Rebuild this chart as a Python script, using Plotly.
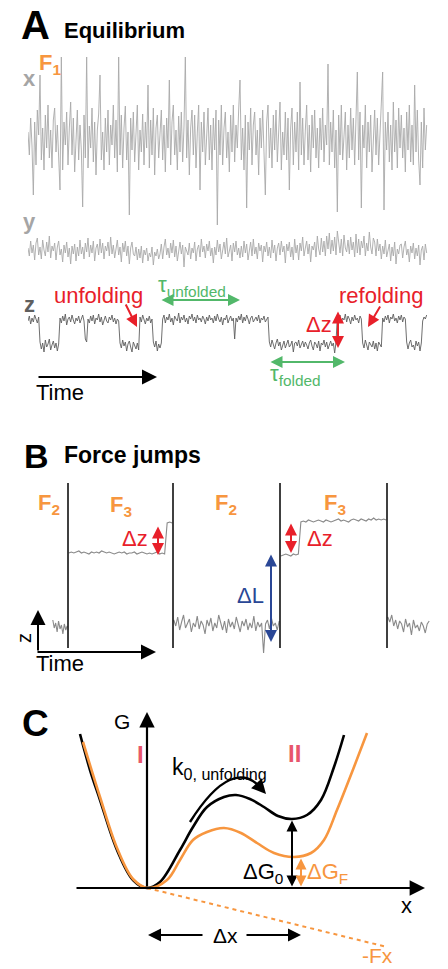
import numpy as np
import plotly.graph_objects as go

W, H = 448, 969

# ---------------- data ----------------
# Panel A: equilibrium traces (offsets, sampled evenly in time)
x_signal = [8, -15, 22, -6, -55, 18, -25, 30, 5, 65, -20, 12, -30, 25, -8, 35, -18, 10, -28, 20,
            32, -12, 15, -22, -50, 83, -30, 18, -5, 28, -25, 12, 38, -15, 22, -32, 8, 30, -20, 15,
            -10, -67, 25, -18, 83, -28, 14, -8, 32, -22, 18, -35, 10, 26, 65, -20, 8, -30, 22, -12,
            30, -25, 15, -5, 35, -18, 20, -32, 83, -15, 25, -28, 12, 34, -20, 8, -75, 22, -10, 28,
            -22, 15, 35, -30, 10, -12, 26, -25, 18, -8, 55, -28, 20, -15, 32, -35, 12, 25, -18, 6,
            30, -20, 15, -32, 22, -8, 60, -25, 18, 35, -15, 10, -30, 24, -12, 28, -22, 14, 83, -18,
            20, -35, 12, 30, -15, 25, -28, 8, 35, -50, 18, -12, 28, -25, 10, 32, -20, 15, -30, 22,
            -10, 30, -85, 20, -15, 35, -25, 12, 28, -18, 8, -32, 25, -12, 35, -22, 15, -8, 30, 60,
            -20, 12, -30, 25, -68, 18, -10, 32, -25, 15, 28, -15, 10, -35, 22, -8, 30, -20, -55, 18,
            35, -18, 12, -28, 25, -10, 30, -22, 15, 38, -30, 8, -15, 28, -20, 22, -50, 12, 32, -25,
            18, -12, 28, -30, 58, -15, 22, -25, 10, 35, -20, 15, -32, 25, -8, 30, -18, 12, -28, 22,
            -10, 32, -22, 15, -5, 76, -25, 18, -12, 30, -28, 10, -72, 25, -15, 35, -20, 12, 28, -30,
            15, -18, 32, -10, 22, -25, 12, 68, -20, 28, -68, 15, -8, 35, -28, 18, -12, 25, -32, 10,
            30, -15, 22, -25, 12, 35, 68, -70, 18, -10, 28, -22, 15, -30, 38, -12, 20, -28, 32, -8,
            25, -18, 12, -32, 28, -10, 35, -22, 15, -25, 55, -12, 30, -20, -45, 18, -28, 32, -10, 15]
y_signal = [2, -6, 9, -3, 5, -10, 7, 12, -5, 3, -9, 10, 0, -6, 8, -2, 14, -8, 4, -1,
            7, -10, 3, 9, -5, 1, -12, 5, -3, 8, -7, 2, -14, 4, -4, 6, -11, 3, -6, 10,
            -4, 3, -9, 7, -2, 12, -7, 5, -3, 9, -11, 2, 6, -5, 11, -3, 7, -9, 4, -1,
            8, -6, 13, -4, 5, -8, 1, 10, -5, 3, -12, 7, -2, 9, -6, 4, -14, 2, 8, -4,
            -6, 3, -10, 1, -8, 4, -13, 0, -5, 2, -11, -3, -7, 3, -15, -2, -6, 1, -9, -4,
            6, -9, 3, 11, -5, 2, -8, 7, -3, 10, -7, 4, -11, 2, 8, -4, 5, -17, 3, -1,
            -5, 7, -9, 2, -3, 8, -11, 1, 5, -7, 11, -2, 4, -8, 6, -1, 9, -6, 2, -13,
            3, -5, 10, -2, 6, -9, 1, 8, -4, 12, -7, 1, 5, -11, 7, -2, 9, -5, 2, -8,
            4, -7, 9, -3, 6, -10, 2, 8, -6, 11, -4, 3, -9, 7, -1, 5, -12, 4, -2, 8,
            -6, 3, -8, 10, -3, 5, -11, 2, 7, -5, 9, -2, 4, -13, 6, -1, 8, -7, 3, -10,
            11, -3, 5, -10, 7, -1, 13, -6, 2, 9, -4, 6, -12, 4, 0, 8, -7, 14, 1, -5,
            12, -2, 9, -6, 14, 1, 17, -4, 10, -1, 13, -5, 19, 5, -3, 11, -6, 15, 2, -2,
            10, -4, 13, 0, 8, -7, 16, -3, 11, -5, 9, 2, 14, -6, 7, -1, 18, 3, -4, 12,
            8, -6, 11, -1, 6, -9, 4, -4, 10, -7, 2, 6, -11, 3, -6, 8, -14, 1, -4, 5,
            6, -8, 3, 9, -5, 1, -12, 4, -3, 7, -9, 2, -6, 5, -15, 0, 4, -10, 6, -3]
z_signal = [24, 29, 21, 27, 23, 30, 26, 22, 28,
            3, -4, 2, -7, 5, -2, 1, 6, -5, 0, 4, -3, 2, -6, 1,
            27, 22, 29, 24, 31, 20, 26, 28, 23, 30, 25, 21, 27, 24, 29, 22, 26, 30, 24,
            6, 3,
            26, 22, 29, 24, 30, 21, 27, 25, 31, 23, 28, 20, 26, 29, 24, 22, 28, 25, 30, 23, 27, 21, 26, 24,
            2, -3, 5, -1, 3, -6, 1, 4, -2, -7, 3, 0, -4, 2, -5,
            28, 23, 30, 25, 21, 27, 24, 29, 22, 26,
            3, -2, 4, -6, 1, -3, 2,
            26, 30, 22, 28, 25, 31, 23, 27, 20, 29, 26, 24, 32, 22, 28, 25, 30, 23, 27, 21,
            29, 26, 31, 24, 28, 22, 30, 25, 27, 23, 29, 26, 21, 28, 24, 30, 25, 27, 22, 29,
            24, 31, 26, 23, 28, 20, 27, 25, 30, 22, 26, 29, 24, 27,
            6,
            27, 23, 29, 25, 31, 22, 28, 24, 30, 26, 21, 27, 29, 23, 26, 28, 24, 30, 22, 27, 25, 29, 23, 26, 28,
            3, -2, 5, 0, -4, 2, 6, -1, 3, -5, 1, 4, -3, 2, 5, -2, 0, 4, -7, 2,
            3, -1, 5, -3, 1, 4, -2, 3, 0, -4, 2, 5, -1, -5, 3, 1, -3, 4, -6, 2,
            0, 5, -2, 3, -4, 1, 4, -1, 2, -8, 3,
            28, 24, 30, 22, 27, 25, 31, 23, 29, 26, 21, 28, 24, 30, 25, 27, 22, 29, 26,
            2, -3, 5, 0, -5, 3, 1, -2, 4, -4, 2, -6, 3, 0, -2,
            27, 23, 29, 25, 30, 22, 28, 26, 31, 24, 27, 22, 29, 25, 30, 23, 28, 26,
            3, -4, 2, 5, -2, 0, -5, 4, -1, 3, -6, 2,
            24, 28, 26, 30]

# Panel B: force-jump trace
force_jump_times = [8.0, 34.25, 61.0, 87.75]
trace_start, trace_end = 4.0, 98.5
b_seg1 = [30, 22, 27, 18, 29, 21, 25, 16, 26, 20, 24]
b_seg2 = [97, 98, 97, 98, 99, 97, 98, 97, 96, 98, 97, 98, 97, 99, 98, 97, 98, 97, 96, 97,
          98, 97, 98, 96, 97, 97, 98, 96, 97, 98, 97, 96, 97, 96, 97, 98, 96, 97, 96, 127,
          128, 127]
b_seg3 = [30, 24, 33, 20, 28, 35, 22, 26, 31, 18, 27, 23, 34, 21, 29, 25, 16, 30, 24, 32,
          19, 27, 22, 35, 26, 20, 29, 17, 31, 23, 28, 21, 33, 25, 18, 29, 24, 31, 20, 27,
          22, 34, 19, 28, 23, 27, -3, 26, 30, 21, 32, 24, 27, 20, 29]
b_seg4 = [94, 95, 96, 95, 94, 96, 95, 96, 128, 129, 128, 130, 129, 128, 129, 130, 129, 128, 130, 129,
          128, 129, 130, 131, 129, 130, 129, 128, 130, 131, 130, 129, 131, 130, 129, 131, 130, 132, 130, 131,
          130, 131, 130]
b_seg5 = [33, 28, 35, 24, 30, 21, 29, 26, 18, 31, 23, 27, 15, 30, 22, 25, 19, 28, 24, 17, 26, 29]

# Panel C: free-energy landscapes
land0_x = [-6.7, -5.7, -4.7, -3.0, -1.4, 0.0, 1.3, 3.3, 4.6, 6.0, 7.7, 8.9, 10.3, 11.7, 13.1,
           14.5, 16.0, 17.4, 18.7, 19.7]
land0_G = [15.4, 11.8, 8.8, 3.8, 0.8, 0.0, 0.6, 3.8, 6.1, 8.1, 9.1, 9.3, 8.9, 8.1, 7.2,
           6.9, 7.3, 8.8, 12.1, 15.3]
landF_x = [-6.4, -4.7, -3.0, -1.4, 0.1, 2.0, 3.3, 4.6, 6.0, 7.7, 9.4, 11.0, 12.7, 14.7,
           16.4, 17.7, 19.0, 20.7, 22.0]
landF_G = [14.6, 9.1, 4.0, 0.9, 0.0, 0.8, 2.8, 4.8, 5.6, 6.0, 5.5, 4.5, 3.5, 3.1,
           3.5, 4.8, 7.8, 12.1, 15.5]
tilt_x = [0.0, 24.0]
tilt_G = [0.0, -5.9]

# ---------------- helpers ----------------
FONT = "Liberation Sans, Arial, Helvetica, sans-serif"
ORANGE = "#f7963f"
RED = "#e8202a"
GREEN = "#52b86a"
BLUE = "#2a4796"
PINK = "#e8566c"


def px(x):
    return x / W


def py(y):
    return 1 - y / H


annotations = []
shapes = []


def text(x, y, s, size, color="black", xanchor="center", yanchor="middle", angle=0):
    annotations.append(dict(x=px(x), y=py(y), xref="paper", yref="paper", text=s,
                            showarrow=False, xanchor=xanchor, yanchor=yanchor, textangle=angle,
                            borderpad=0,
                            font=dict(family=FONT, size=size, color=color)))


def arrow(x0, y0, x1, y1, color="black", width=2.0, both=False, size=1.3, head=2):
    annotations.append(dict(x=px(x1), y=py(y1), xref="paper", yref="paper",
                            ax=x0 - x1, ay=y0 - y1, axref="pixel", ayref="pixel",
                            text="", showarrow=True, arrowhead=head, arrowsize=size,
                            arrowwidth=width, arrowcolor=color,
                            arrowside="end+start" if both else "end",
                            startarrowhead=head, startarrowsize=size,
                            standoff=0, startstandoff=0))


def arrow_ax(xa, ya, x0, y0, x1, y1, color="black", width=2.0, both=False, size=1.3, head=2):
    annotations.append(dict(x=x1, y=y1, xref=xa, yref=ya, ax=x0, ay=y0, axref=xa, ayref=ya,
                            text="", showarrow=True, arrowhead=head, arrowsize=size,
                            arrowwidth=width, arrowcolor=color,
                            arrowside="end+start" if both else "end",
                            startarrowhead=head, startarrowsize=size,
                            standoff=0, startstandoff=0))


fig = go.Figure()

# ---------------- Panel A ----------------
fig.add_trace(go.Scatter(x=np.arange(len(x_signal)), y=x_signal, xaxis="x", yaxis="y",
                         mode="lines", line=dict(color="#a9a9a9", width=0.9)))
fig.add_trace(go.Scatter(x=np.arange(len(y_signal)), y=y_signal, xaxis="x", yaxis="y2",
                         mode="lines", line=dict(color="#a9a9a9", width=0.9)))
fig.add_trace(go.Scatter(x=np.arange(len(z_signal)), y=z_signal, xaxis="x", yaxis="y3",
                         mode="lines", line=dict(color="#5f5f5f", width=0.9)))

text(35, 25, "<b>A</b>", 40)
text(63, 31, "<b>Equilibrium</b>", 22, xanchor="left")
text(38, 64, "<b>F<sub>1</sub></b>", 22, ORANGE, xanchor="left")
text(29, 79, "<b>x</b>", 22, "#a5a5a5")
text(29, 221, "<b>y</b>", 22, "#a5a5a5")
text(29, 304, "<b>z</b>", 22, "#5f5f5f")
text(53, 295, "unfolding", 22, RED, xanchor="left")
arrow(125, 303, 137, 327, RED, 2.0, size=1.2)
text(338, 295, "refolding", 22, RED, xanchor="left")
arrow(381, 305, 368, 327, RED, 2.0, size=1.2)
text(157, 286, "τ<sub>unfolded</sub>", 22, GREEN, xanchor="left")
arrow(160, 300, 240, 300, GREEN, 2.0, both=True, size=1.2)
text(269, 375, "τ<sub>folded</sub>", 22, GREEN, xanchor="left")
arrow(269, 362, 345, 362, GREEN, 2.0, both=True, size=1.2)
text(333, 324, "Δz", 22, RED, xanchor="right")
arrow(338, 310, 338, 348, RED, 2.0, both=True, size=1.2)
arrow(37, 377, 157, 377, "black", 2.0, size=1.5)
text(35, 392, "Time", 22, xanchor="left")

# ---------------- Panel B ----------------
edges = [trace_start] + force_jump_times + [trace_end]
for seg, a, b in zip([b_seg1, b_seg2, b_seg3, b_seg4, b_seg5], edges[:-1], edges[1:]):
    fig.add_trace(go.Scatter(x=np.linspace(a + 0.2, b - 0.2, len(seg)), y=seg, xaxis="x2",
                             yaxis="y4", mode="lines", line=dict(color="#8a8a8a", width=1.1)))
for tj in force_jump_times:
    shapes.append(dict(type="line", xref="x2", yref="y4", x0=tj, x1=tj, y0=2, y1=167,
                       line=dict(color="black", width=1.5)))

text(36, 456, "<b>B</b>", 34)
text(63, 455, "<b>Force jumps</b>", 23, xanchor="left")
text(37, 504, "<b>F<sub>2</sub></b>", 22, ORANGE, xanchor="left")
text(109, 506, "<b>F<sub>3</sub></b>", 22, ORANGE, xanchor="left")
text(214, 504, "<b>F<sub>2</sub></b>", 22, ORANGE, xanchor="left")
text(323, 504, "<b>F<sub>3</sub></b>", 22, ORANGE, xanchor="left")
text(149, 538, "Δz", 22, RED, xanchor="right")
arrow(158, 525, 158, 555, RED, 2.0, both=True, size=1.2)
text(306, 538, "Δz", 22, RED, xanchor="left")
arrow(291, 522, 291, 553, RED, 2.0, both=True, size=1.2)
text(250, 595, "ΔL", 22, BLUE)
arrow(271, 553, 271, 642, BLUE, 2.0, both=True, size=1.2)
arrow(38, 652, 38, 610, "black", 2.0, size=1.5)
arrow(36, 652, 156, 652, "black", 2.0, size=1.5)
text(24, 638, "z", 20, angle=-90)
text(35, 663, "Time", 22, xanchor="left")

# ---------------- Panel C ----------------
fig.add_trace(go.Scatter(x=land0_x, y=land0_G, xaxis="x3", yaxis="y5", mode="lines",
                         line=dict(color="black", width=2.6, shape="spline", smoothing=1.0)))
fig.add_trace(go.Scatter(x=tilt_x, y=tilt_G, xaxis="x3", yaxis="y5", mode="lines",
                         line=dict(color=ORANGE, width=2, dash="4px,4px")))
fig.add_trace(go.Scatter(x=landF_x, y=landF_G, xaxis="x3", yaxis="y5", mode="lines",
                         line=dict(color=ORANGE, width=2.6, shape="spline", smoothing=1.0)))

# axes of the landscape
arrow_ax("x3", "y5", 0, 0, 0, 17.6, "black", 2.2, size=1.4)
arrow_ax("x3", "y5", -7.2, 0, 27.8, 0, "black", 2.2, size=1.4)

# well depths
r0 = [i for i, v in enumerate(land0_x) if v > 12]
i0 = min(r0, key=lambda i: land0_G[i])
rF = [i for i, v in enumerate(landF_x) if v > 12]
iF = min(rF, key=lambda i: landF_G[i])
arrow_ax("x3", "y5", land0_x[i0], 0, land0_x[i0], land0_G[i0] - 0.15, "black", 2.0,
         both=True, size=1.1)
arrow_ax("x3", "y5", landF_x[iF] + 0.7, 0, landF_x[iF] + 0.7, landF_G[iF] - 0.15, ORANGE, 2.0,
         both=True, size=1.1)

# k0 arc
shapes.append(dict(type="path", xref="x3", yref="y5", path="M 4.3 6.6 Q 8.6 13.4 11.6 9.8",
                   line=dict(color="black", width=2.4)))
arrow_ax("x3", "y5", 11.0, 10.4, 11.9, 9.4, "black", 2.2, size=1.3)

text(35, 723, "<b>C</b>", 37)
text(122, 721, "G", 21)
text(140, 754, "<b>I</b>", 24, PINK)
text(294, 753, "<b>II</b>", 24, PINK)
text(171, 768, "k<sub>0, unfolding</sub>", 23, xanchor="left")
text(406, 905, "x", 22)
text(284, 873, "ΔG<sub>0</sub>", 22, xanchor="right")
text(306, 873, "ΔG<sub>F</sub>", 22, ORANGE, xanchor="left")
text(225, 935, "Δx", 21)
arrow(204, 935, 148, 935, "black", 2.0, size=1.3)
arrow(245, 935, 301, 935, "black", 2.0, size=1.3)
text(377, 955, "-Fx", 21, ORANGE)

# ---------------- layout ----------------
hidden = dict(visible=False, showgrid=False, zeroline=False, fixedrange=True)
n_a = len(x_signal)
fig.update_layout(
    width=W, height=H, margin=dict(l=0, r=0, t=0, b=0),
    paper_bgcolor="white", plot_bgcolor="white", showlegend=False,
    xaxis=dict(hidden, domain=[px(28), px(428)], range=[0, n_a], anchor="y"),
    yaxis=dict(hidden, domain=[py(230), py(50)], range=[-90, 90], anchor="x"),
    yaxis2=dict(hidden, domain=[py(275), py(225)], range=[-25, 25], anchor="x"),
    yaxis3=dict(hidden, domain=[py(365), py(300)], range=[-20, 45], anchor="x"),
    xaxis2=dict(hidden, domain=[px(36), px(436)], range=[0, 100], anchor="y4"),
    yaxis4=dict(hidden, domain=[py(660), py(480)], range=[-10, 170], anchor="x2"),
    xaxis3=dict(hidden, domain=[0, 1], range=[-14.7, 30.1], anchor="y5"),
    yaxis5=dict(hidden, domain=[0, py(700)], range=[-8.1, 18.8], anchor="x3"),
    annotations=annotations, shapes=shapes,
)

fig.write_html("out.html", config={"displayModeBar": False, "staticPlot": True},
               post_script="document.body.style.margin='0';")
